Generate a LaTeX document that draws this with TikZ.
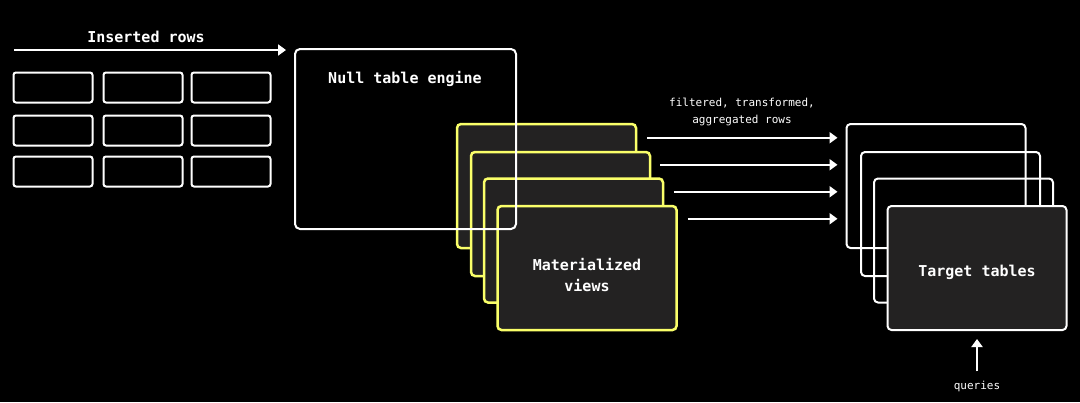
\documentclass[tikz,border=0pt]{standalone}
\usepackage{fontspec}
\setmonofont{DejaVu Sans Mono}
\usetikzlibrary{arrows.meta}
\definecolor{chyellow}{HTML}{FAFF69}
\definecolor{panel}{HTML}{232222}
\tikzset{
  rowbox/.style={draw=white, line width=2pt, rounded corners=2.5pt, minimum width=79pt, minimum height=30pt, inner sep=0pt},
  nullbox/.style={draw=white, line width=2pt, rounded corners=5pt, minimum width=221pt, minimum height=180pt, inner sep=0pt},
  mvbox/.style={draw=chyellow, fill=panel, line width=2.5pt, rounded corners=4pt, minimum width=179pt, minimum height=124pt, inner sep=0pt},
  tbback/.style={draw=white, line width=2pt, rounded corners=4pt, minimum width=179pt, minimum height=124pt, inner sep=0pt},
  tbfront/.style={draw=white, fill=panel, line width=2pt, rounded corners=4pt, minimum width=179pt, minimum height=124pt, inner sep=0pt},
  title/.style={text=white, font=\ttfamily\bfseries\fontsize{15}{21}\selectfont, align=center, inner sep=0pt},
  small/.style={text=white, font=\ttfamily\fontsize{11}{17}\selectfont, align=center, inner sep=0pt},
  arr/.style={draw=white, line width=2pt, -{Triangle[length=8pt,width=11pt]}}
}
\begin{document}
\begin{tikzpicture}[x=1pt,y=-1pt]
\fill[black] (0,0) rectangle (1080,402);
\useasboundingbox (0,0) rectangle (1080,402);

% inserted rows grid
\node[rowbox] (r11) at (53,87.5) {};
\node[rowbox] (r12) at (143,87.5) {};
\node[rowbox] (r13) at (231,87.5) {};
\node[rowbox] (r21) at (53,130.5) {};
\node[rowbox] (r22) at (143,130.5) {};
\node[rowbox] (r23) at (231,130.5) {};
\node[rowbox] (r31) at (53,171.5) {};
\node[rowbox] (r32) at (143,171.5) {};
\node[rowbox] (r33) at (231,171.5) {};

\node[title] (irlabel) at (146,37) {Inserted rows};

% materialized views
\node[mvbox] (mv1) at (546.5,186) {};
\node[mvbox] (mv2) at (560.5,214) {};
\node[mvbox] (mv3) at (573.5,240.5) {};
\node[mvbox] (mv4) at (587,268) {};
\node[title] (mvtext) at (587,275) {Materialized\\views};

% null table engine (outline drawn on top)
\node[nullbox] (null) at (405.5,139) {};
\node[title] (nulltext) at (405,79) {Null table engine};

\coordinate (irstart) at (14,50);
\draw[arr] (irstart) -- ([xshift=-8pt]null.west |- irstart);

% target tables
\node[tbback] (t1) at (936,186) {};
\node[tbback] (t2) at (950.5,214) {};
\node[tbback] (t3) at (963.5,240.5) {};
\node[tbfront] (t4) at (977,268) {};
\node[title] (ttext) at (977,272) {Target tables};

% arrows between
\coordinate (tend) at ([xshift=-8pt]t1.west);
\coordinate (s1) at ([shift={(10,15)}]mv1.north east);
\coordinate (s2) at ([shift={(9,14)}]mv2.north east);
\coordinate (s3) at ([shift={(9.5,14.5)}]mv3.north east);
\coordinate (s4) at ([shift={(10,14)}]mv4.north east);
\draw[arr] (s1) -- (s1 -| tend);
\draw[arr] (s2) -- (s2 -| tend);
\draw[arr] (s3) -- (s3 -| tend);
\draw[arr] (s4) -- (s4 -| tend);

\node[small] (flabel) at (742,112) {filtered, transformed,\\aggregated rows};

% queries
\node[small] (qlabel) at (977,386) {queries};
\draw[arr] ([yshift=9pt]qlabel.north) -- ([yshift=-8pt]t4.south);
\end{tikzpicture}
\end{document}
